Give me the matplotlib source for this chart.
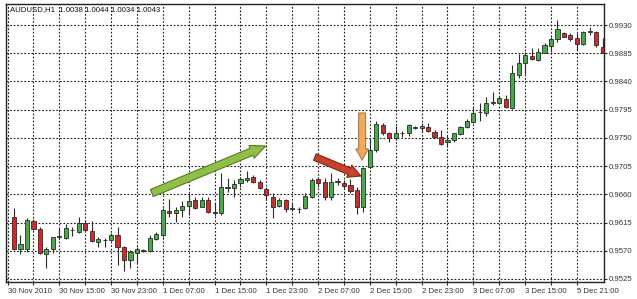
import matplotlib
matplotlib.use("Agg")
import matplotlib.pyplot as plt
from matplotlib.patches import FancyArrowPatch
import numpy as np

plt.rcParams['font.family'] = ['Liberation Sans', 'DejaVu Sans']

# ---- data: hourly AUDUSD candles (open, high, low, close) ----
opens = [0.96244, 0.95724, 0.95724, 0.96175, 0.96048, 0.95649, 0.95729, 0.95936, 0.95899, 0.96025,
         0.96005, 0.96148, 0.96016, 0.95840, 0.95868, 0.95872, 0.95952, 0.95756, 0.95553, 0.95660,
         0.95713, 0.95697, 0.95888, 0.95952, 0.96335, 0.96298, 0.96351, 0.96414, 0.96510, 0.96403,
         0.96510, 0.96323, 0.96298, 0.96722, 0.96697, 0.96776, 0.96829, 0.96872, 0.96802, 0.96681,
         0.96563, 0.96414, 0.96510, 0.96378, 0.96367, 0.96378, 0.96563, 0.96840, 0.96802, 0.96563,
         0.96797, 0.96786, 0.96749, 0.96669, 0.96394, 0.97041, 0.97307, 0.97706, 0.97583, 0.97494,
         0.97570, 0.97583, 0.97665, 0.97653, 0.97679, 0.97599, 0.97519, 0.97440, 0.97467, 0.97562,
         0.97669, 0.97759, 0.97912, 0.97902, 0.98061, 0.98061, 0.98116, 0.97972, 0.98503, 0.98690,
         0.98806, 0.98742, 0.98859, 0.98966, 0.99072, 0.99178, 0.99141, 0.99088, 0.98997, 0.99190,
         0.99194, 0.98954]
highs = [0.96378, 0.95952, 0.96218, 0.96202, 0.96075, 0.95765, 0.95915, 0.96059, 0.96127, 0.96084,
         0.96234, 0.96191, 0.96175, 0.95925, 0.95899, 0.95979, 0.96084, 0.95777, 0.95713, 0.95765,
         0.95724, 0.95952, 0.96005, 0.96378, 0.96521, 0.96403, 0.96499, 0.96617, 0.96563, 0.96553,
         0.96563, 0.96457, 0.96945, 0.96856, 0.96829, 0.96882, 0.96977, 0.96909, 0.96829, 0.96722,
         0.96617, 0.96537, 0.96521, 0.96457, 0.96403, 0.96617, 0.96856, 0.96882, 0.96856, 0.96945,
         0.96856, 0.96829, 0.96840, 0.96713, 0.97041, 0.97494, 0.97774, 0.97733, 0.97599, 0.97690,
         0.97615, 0.97722, 0.97690, 0.97733, 0.97743, 0.97626, 0.97626, 0.97546, 0.97583, 0.97690,
         0.97797, 0.97988, 0.98052, 0.98148, 0.98237, 0.98168, 0.98184, 0.98663, 0.98838, 0.98875,
         0.98929, 0.98929, 0.99009, 0.99114, 0.99380, 0.99194, 0.99168, 0.99178, 0.99210, 0.99264,
         0.99210, 0.99088]
lows = [0.95713, 0.95649, 0.95686, 0.96032, 0.95649, 0.95421, 0.95660, 0.95883, 0.95883, 0.95936,
        0.95989, 0.96016, 0.95845, 0.95756, 0.95756, 0.95861, 0.95474, 0.95383, 0.95421, 0.95501,
        0.95686, 0.95686, 0.95872, 0.95925, 0.96244, 0.96164, 0.96244, 0.96271, 0.96362, 0.96394,
        0.96298, 0.96260, 0.96271, 0.96642, 0.96563, 0.96713, 0.96802, 0.96776, 0.96681, 0.96510,
        0.96218, 0.96394, 0.96323, 0.96339, 0.96308, 0.96362, 0.96537, 0.96722, 0.96510, 0.96510,
        0.96749, 0.96697, 0.96626, 0.96287, 0.96323, 0.97016, 0.97280, 0.97546, 0.97440, 0.97467,
        0.97510, 0.97531, 0.97637, 0.97599, 0.97599, 0.97494, 0.97388, 0.97360, 0.97440, 0.97546,
        0.97653, 0.97743, 0.97774, 0.97849, 0.98025, 0.98052, 0.97972, 0.97956, 0.98450, 0.98519,
        0.98742, 0.98731, 0.98849, 0.98875, 0.99034, 0.99104, 0.99050, 0.98902, 0.98982, 0.99141,
        0.98954, 0.98859]
closes = [0.95724, 0.95804, 0.96191, 0.96043, 0.95660, 0.95729, 0.95915, 0.95915, 0.96059, 0.96030,
          0.96139, 0.96032, 0.95861, 0.95883, 0.95875, 0.95952, 0.95756, 0.95553, 0.95681, 0.95729,
          0.95697, 0.95899, 0.95963, 0.96351, 0.96308, 0.96351, 0.96419, 0.96499, 0.96378, 0.96510,
          0.96314, 0.96308, 0.96722, 0.96706, 0.96765, 0.96840, 0.96866, 0.96802, 0.96697, 0.96590,
          0.96403, 0.96510, 0.96362, 0.96367, 0.96372, 0.96574, 0.96829, 0.96776, 0.96563, 0.96802,
          0.96805, 0.96733, 0.96658, 0.96403, 0.97016, 0.97307, 0.97717, 0.97574, 0.97494, 0.97574,
          0.97578, 0.97706, 0.97672, 0.97690, 0.97615, 0.97510, 0.97403, 0.97467, 0.97574, 0.97669,
          0.97774, 0.97902, 0.97920, 0.98052, 0.98077, 0.98132, 0.97998, 0.98540, 0.98690, 0.98822,
          0.98753, 0.98875, 0.98982, 0.99072, 0.99232, 0.99114, 0.99072, 0.98997, 0.99194, 0.99198,
          0.98982, 0.98859]

price_ticks = [0.9525, 0.9570, 0.9615, 0.9660, 0.9705, 0.9750, 0.9795, 0.9840, 0.9885, 0.9930]
time_labels = ["30 Nov 2010", "30 Nov 15:00", "30 Nov 23:00", "1 Dec 07:00", "1 Dec 15:00",
               "1 Dec 23:00", "2 Dec 07:00", "2 Dec 15:00", "2 Dec 23:00", "3 Dec 07:00",
               "3 Dec 15:00", "5 Dec 21:00"]
header = "AUDUSD,H1  1.0038 1.0044 1.0034 1.0043"

# annotation arrows (bar index, price)
green_arrow = ((21.3, 0.96621), (38.9, 0.97371))
red_arrow = ((46.5, 0.97195), (53.6, 0.96892))
orange_arrow = ((53.8, 0.97897), (53.8, 0.97147))

# ---- figure ----
W, H = 637, 299
fig = plt.figure(figsize=(W / 100, H / 100), dpi=100)
fig.patch.set_facecolor("white")
ax = fig.add_axes([6 / W, 1 - 282 / H, (604 - 6) / W, (282 - 4) / H])
ax.set_facecolor("white")

o = np.array(opens); h = np.array(highs); l = np.array(lows); c = np.array(closes)
idx = np.arange(len(o))
up = c >= o
green = "#45ad45"
red = "#cf2b2b"

ax.vlines(idx, l, h, color="#2a2a2a", lw=0.8, zorder=3)
bottoms = np.minimum(o, c)
heights = np.maximum(np.abs(c - o), 0.00003)
ax.bar(idx, heights, bottom=bottoms, width=0.64,
       color=np.where(up, green, red), edgecolor="#2a2a2a", linewidth=0.6, zorder=4)

# grid / axes
ax.set_xlim(-1.24, 91.19)
ax.set_ylim(0.95202, 0.99635)
xt = list(range(-1, 91, 4))
ax.set_xticks(xt)
labels = []
li = 0
for k, t in enumerate(xt):
    if k % 2 == 0 and li < len(time_labels):
        labels.append(time_labels[li]); li += 1
    else:
        labels.append("")
ax.set_xticklabels(labels, ha="left")
ax.set_yticks(price_ticks)
ax.set_yticklabels([f"{p:.4f}" for p in price_ticks])
ax.yaxis.tick_right()
ax.tick_params(axis="both", direction="out", length=2.5, width=0.8, color="#222",
               labelsize=5.6, labelcolor="#333", pad=1.0)
ax.tick_params(axis="x", pad=2)
ax.grid(True, color="#222", linestyle=(0, (1.6, 1.6)), linewidth=0.8, zorder=1)
ax.set_axisbelow(True)
for s in ax.spines.values():
    s.set_color("#222")
    s.set_linewidth(1.0)

ax.text(4 / 598, 1 - 6 / 278, header, transform=ax.transAxes, fontsize=5.6,
        ha="left", va="center", color="#111", zorder=6)

def arrow(pts, face, edge, tw, hw, hl):
    a = FancyArrowPatch(pts[0], pts[1],
                        arrowstyle=f"simple,tail_width={tw},head_width={hw},head_length={hl}",
                        facecolor=face, edgecolor=edge, linewidth=0.8, zorder=7,
                        shrinkA=0, shrinkB=0)
    ax.add_patch(a)

arrow(green_arrow, "#8fbf45", "#5a7a2a", 5.5, 10, 11)
arrow(red_arrow, "#c9412b", "#7a2a1a", 5.0, 9.5, 9)
arrow(orange_arrow, "#f0aa60", "#b07a40", 5.0, 9.0, 8)

fig.savefig("out.png", dpi=100, facecolor="white")
